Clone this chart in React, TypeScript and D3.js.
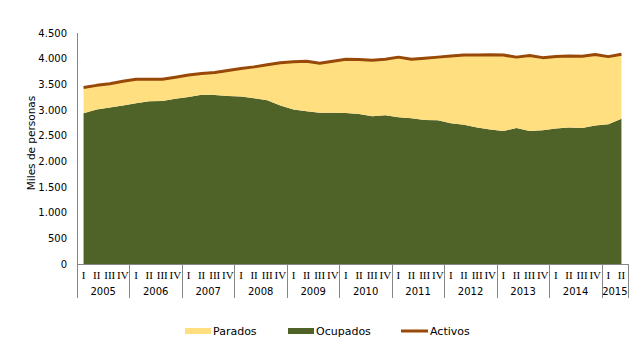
import React from "react";
import * as d3 from "d3";

const years = ["2005", "2006", "2007", "2008", "2009", "2010", "2011", "2012", "2013", "2014", "2015"];
const quarterNames = ["I", "II", "III", "IV"];
const quartersPerYear = [4, 4, 4, 4, 4, 4, 4, 4, 4, 4, 2];

const activos = [
  3440, 3480, 3510, 3560,
  3600, 3600, 3600, 3640,
  3680, 3710, 3730, 3770,
  3810, 3840, 3880, 3920,
  3940, 3950, 3910, 3950,
  3990, 3985, 3970, 3990,
  4030, 3990, 4010, 4030,
  4050, 4070, 4070, 4075,
  4070, 4030, 4060, 4020,
  4040, 4050, 4045, 4080,
  4040, 4085,
];

const ocupados = [
  2935, 3010, 3050, 3090,
  3130, 3170, 3175, 3220,
  3255, 3295, 3290, 3275,
  3265, 3230, 3190, 3090,
  3010, 2975, 2945, 2945,
  2940, 2920, 2880, 2900,
  2860, 2840, 2805, 2800,
  2740, 2715, 2660, 2620,
  2590, 2650, 2590, 2605,
  2640, 2660, 2650, 2700,
  2720, 2830,
];

const yTicks = [0, 500, 1000, 1500, 2000, 2500, 3000, 3500, 4000, 4500];

const C_PARADOS = "#FFDF80";
const C_OCUPADOS = "#4F6228";
const C_ACTIVOS = "#984807";
const C_AXIS = "#868686";

export default function App() {
  const W = 640, H = 356;
  const left = 77, right = 628, top = 33, bottom = 264;

  const labels: { q: string; yi: number }[] = [];
  quartersPerYear.forEach((n, yi) => {
    for (let k = 0; k < n; k++) labels.push({ q: quarterNames[k], yi });
  });
  const idx = labels.map((_, i) => i);

  const x = d3.scaleBand<number>().domain(idx).range([left, right]).padding(0);
  const bw = x.bandwidth();
  const cx = (i: number) => (x(i) as number) + bw / 2;
  const y = d3.scaleLinear().domain([0, 4500]).range([bottom, top]);

  const fmt = d3.formatLocale({ decimal: ",", thousands: ".", grouping: [3], currency: ["", ""] }).format(",");

  const table = idx.map((i) => ({ i, ocup: ocupados[i], act: activos[i], par: activos[i] - ocupados[i] }));

  const areaOcup = d3.area<any>().x((d) => cx(d.i)).y0(y(0)).y1((d) => y(d.ocup))(table) as string;
  const areaPar = d3.area<any>().x((d) => cx(d.i)).y0((d) => y(d.ocup)).y1((d) => y(d.ocup + d.par))(table) as string;
  const lineAct = d3.line<any>().x((d) => cx(d.i)).y((d) => y(d.act))(table) as string;

  const bounds: number[] = [];
  let acc = 0;
  bounds.push(acc);
  quartersPerYear.forEach((n) => { acc += n; bounds.push(acc); });
  const bx = (b: number) => (b < idx.length ? (x(b) as number) : right);

  const sansFont = "DejaVu Sans, Verdana, sans-serif";

  return (
    <svg width={W} height={H} style={{ position: "absolute", left: 0, top: 0, background: "#fff" }}>
      <path d={areaOcup} fill={C_OCUPADOS} />
      <path d={areaPar} fill={C_PARADOS} />
      <path d={lineAct} fill="none" stroke={C_ACTIVOS} strokeWidth={3} strokeLinejoin="round" />

      {/* y axis */}
      <line x1={left + 0.5} x2={left + 0.5} y1={top} y2={bottom + 34} stroke={C_AXIS} strokeWidth={1} />
      {yTicks.map((t) => (
        <text key={t} x={67} y={y(t)} dy="0.35em" textAnchor="end" fontFamily={sansFont} fontSize={10} fill="#000">
          {fmt(t)}
        </text>
      ))}
      <text transform={`translate(35,143) rotate(-90)`} textAnchor="middle" fontFamily={sansFont} fontSize={10.5} fill="#000">
        Miles de personas
      </text>

      {/* x axis */}
      <line x1={left} x2={right} y1={bottom + 0.5} y2={bottom + 0.5} stroke={C_AXIS} strokeWidth={1} />
      {bounds.map((b, k) => (
        <line key={k} x1={Math.round(bx(b)) + 0.5} x2={Math.round(bx(b)) + 0.5} y1={bottom} y2={bottom + 34} stroke={C_AXIS} strokeWidth={1} />
      ))}
      {labels.map((l, i) => (
        <text key={i} x={cx(i)} y={bottom + 15} textAnchor="middle" fontFamily="Liberation Serif, Times New Roman, serif" fontSize={11} fill="#000">
          {l.q}
        </text>
      ))}
      {years.map((yr, k) => (
        <text key={yr} x={(bx(bounds[k]) + bx(bounds[k + 1])) / 2} y={bottom + 31} textAnchor="middle" fontFamily={sansFont} fontSize={10} fill="#000">
          {yr}
        </text>
      ))}

      {/* legend */}
      <rect x={185} y={328} width={26} height={6} fill={C_PARADOS} />
      <text x={213} y={331} dy="0.35em" fontFamily={sansFont} fontSize={11} fill="#000">Parados</text>
      <rect x={288} y={328} width={26} height={6} fill={C_OCUPADOS} />
      <text x={316} y={331} dy="0.35em" fontFamily={sansFont} fontSize={11} fill="#000">Ocupados</text>
      <line x1={401} x2={428} y1={331} y2={331} stroke={C_ACTIVOS} strokeWidth={3} />
      <text x={430} y={331} dy="0.35em" fontFamily={sansFont} fontSize={11} fill="#000">Activos</text>
    </svg>
  );
}
